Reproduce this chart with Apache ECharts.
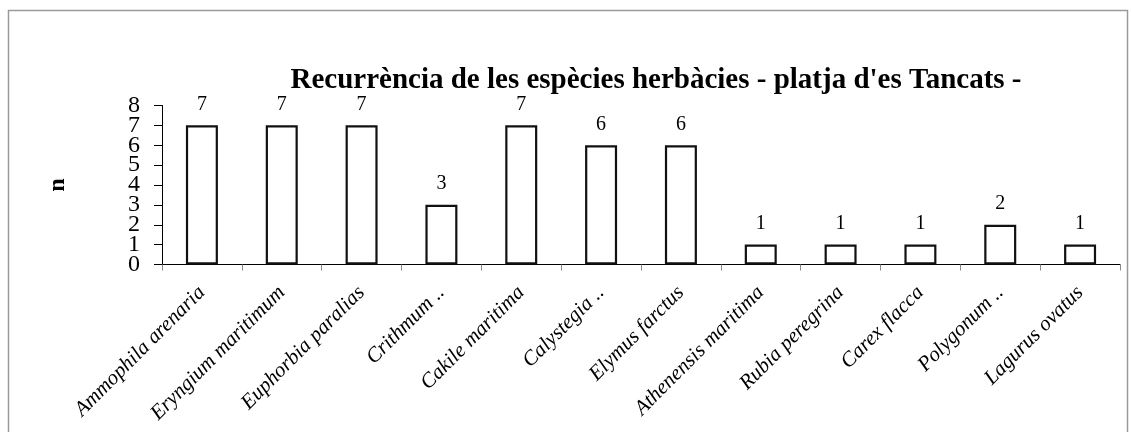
<!DOCTYPE html>
<html>
<head>
<meta charset="utf-8">
<script src="https://cdn.jsdelivr.net/npm/echarts@6/dist/echarts.min.js"></script>
<style>
  html, body { margin: 0; padding: 0; background: #fff; }
  #chart { width: 1131px; height: 432px; }
</style>
</head>
<body>
<div id="chart"></div>
<script>
// Species observed on the beach and how many times each one was recorded
const species = [
  'Ammophila arenaria', 'Eryngium maritimum', 'Euphorbia paralias', 'Crithmum ..',
  'Cakile maritima', 'Calystegia ..', 'Elymus farctus', 'Athenensis maritima',
  'Rubia peregrina', 'Carex flacca', 'Polygonum ..', 'Lagurus ovatus'
];
const recurrence = [7, 7, 7, 3, 7, 6, 6, 1, 1, 1, 2, 1];
const yTicks = [0, 1, 2, 3, 4, 5, 6, 7, 8];

const serif = '"Liberation Serif", "Times New Roman", serif';
const yMin = yTicks[0];
const yMax = yTicks[yTicks.length - 1];

const tickLabelStyle = {
  margin: 22,
  fontFamily: serif,
  fontSize: 24,
  color: '#000',
  hideOverlap: false
};

const chart = echarts.init(document.getElementById('chart'), null, { renderer: 'canvas' });

chart.setOption({
  backgroundColor: '#fff',
  animation: false,
  title: {
    text: "Recurrència de les espècies herbàcies - platja d'es Tancats -",
    left: 651,
    top: 61,
    textAlign: 'center',
    textStyle: { fontFamily: serif, fontWeight: 'bold', fontSize: 29, color: '#000' }
  },
  graphic: [{
    type: 'rect',
    shape: { x: 8.5, y: 10.5, width: 1119, height: 440 },
    style: { fill: 'none', stroke: '#9a9a9a', lineWidth: 1.5 },
    silent: true
  }],
  grid: { left: 162, right: 11, top: 105.5, bottom: 167.5, containLabel: false },
  xAxis: {
    type: 'category',
    data: species,
    axisLine: { lineStyle: { color: '#000', width: 1 } },
    axisTick: { show: true, length: 6, lineStyle: { color: '#888' } },
    axisLabel: {
      rotate: 45,
      interval: 0,
      margin: 25,
      fontFamily: serif,
      fontStyle: 'italic',
      fontSize: 21,
      color: '#000'
    }
  },
  yAxis: [{
    // inner ticks 1..7; the tightly packed labels are kept by leaving the ends to the axis below
    type: 'value',
    min: yMin,
    max: yMax,
    interval: 1,
    name: 'n',
    nameLocation: 'middle',
    nameGap: 92,
    nameRotate: 90,
    nameTextStyle: { fontFamily: serif, fontWeight: 'bold', fontSize: 24, color: '#000' },
    axisLine: { show: true, lineStyle: { color: '#000', width: 1 } },
    axisTick: { show: true, length: 8, lineStyle: { color: '#000' } },
    axisLabel: Object.assign({ showMinLabel: false, showMaxLabel: false }, tickLabelStyle),
    splitLine: { show: false }
  }, {
    // end ticks 0 and 8
    type: 'value',
    position: 'left',
    min: yMin,
    max: yMax,
    interval: yMax - yMin,
    axisLine: { show: false },
    axisTick: { show: true, length: 8, lineStyle: { color: '#000' } },
    axisLabel: Object.assign({ showMinLabel: true, showMaxLabel: true }, tickLabelStyle),
    splitLine: { show: false }
  }],
  series: [{
    type: 'bar',
    data: recurrence,
    barWidth: 32,
    itemStyle: { color: '#fff', borderColor: '#111', borderWidth: 2.2 },
    label: {
      show: true,
      position: 'top',
      distance: 11,
      fontFamily: serif,
      fontSize: 20,
      color: '#000'
    }
  }]
});
</script>
</body>
</html>
